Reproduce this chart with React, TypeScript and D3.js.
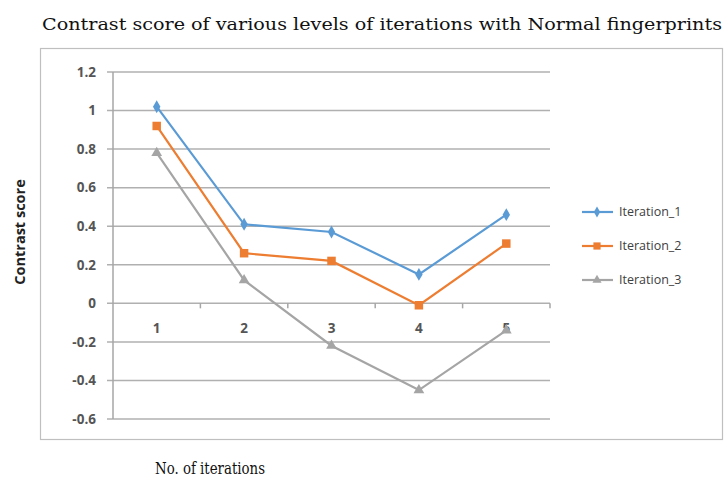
import React from "react";
import * as d3 from "d3";

const categories = ["1", "2", "3", "4", "5"];
const seriesNames = ["Iteration_1", "Iteration_2", "Iteration_3"];
const iteration1 = [1.02, 0.41, 0.37, 0.15, 0.46];
const iteration2 = [0.92, 0.26, 0.22, -0.01, 0.31];
const iteration3 = [0.78, 0.12, -0.22, -0.45, -0.14];
const yTicks = [1.2, 1, 0.8, 0.6, 0.4, 0.2, 0, -0.2, -0.4, -0.6];
const colors = ["#5B9BD5", "#ED7D31", "#A5A5A5"];
const markers = ["diamond", "square", "triangle"];

const W = 727;
const H = 481;
const plotLeft = 113;
const plotRight = 550;
const plotTop = 72;
const plotBottom = 419;

export default function App() {
  const series = [iteration1, iteration2, iteration3];
  const x = d3.scaleBand<string>().domain(categories).range([plotLeft, plotRight]);
  const y = d3.scaleLinear().domain([-0.6, 1.2]).range([plotBottom, plotTop]);
  const cx = (c: string) => (x(c) as number) + x.bandwidth() / 2;
  const line = d3
    .line<number>()
    .x((_, i) => cx(categories[i]))
    .y((d) => y(d));

  const symbolFor = (m: string) =>
    m === "diamond"
      ? d3.symbol().type(d3.symbolDiamond).size(48)()
      : m === "square"
      ? d3.symbol().type(d3.symbolSquare).size(72)()
      : d3.symbol().type(d3.symbolTriangle).size(50)();

  const tickFont = { fontFamily: "'Open Sans', sans-serif", fontSize: 13.5, fontWeight: 700, fill: "#555" };
  const serifFont = {
    fontFamily: "'DejaVu Serif', serif",
    fontStretch: "condensed",
    fontWeight: 400,
    fill: "#111",
  } as React.CSSProperties;
  const boundaries = d3.range(categories.length + 1).map((i) => plotLeft + i * x.step());

  return (
    <svg width={W} height={H} style={{ position: "absolute", left: 0, top: 0, background: "#fff" }}>
      <rect x={0} y={0} width={W} height={H} fill="#fff" />
      <text
        x={42}
        y={30}
        textLength={680}
        lengthAdjust="spacingAndGlyphs"
        style={{ ...serifFont, fontSize: 17.5 }}
      >
        Contrast score of various levels of iterations with Normal fingerprints
      </text>
      <rect x={40.5} y={48.5} width={682} height={391} fill="#fff" stroke="#bfbfbf" strokeWidth={1.2} />
      {yTicks.map((t) => (
        <g key={t}>
          <line x1={plotLeft - 6} x2={plotRight} y1={y(t)} y2={y(t)} stroke="#b0b0b0" strokeWidth={1.5} />
          <text x={96} y={y(t)} dy="0.35em" textAnchor="end" style={tickFont}>
            {t}
          </text>
        </g>
      ))}
      <line x1={plotLeft} x2={plotLeft} y1={plotTop} y2={plotBottom} stroke="#a6a6a6" strokeWidth={1.5} />
      {boundaries.slice(1).map((bx, i) => (
        <line key={i} x1={bx} x2={bx} y1={y(0)} y2={y(0) + 5} stroke="#a6a6a6" strokeWidth={1.5} />
      ))}
      {categories.map((c) => (
        <text key={c} x={cx(c)} y={y(0) + 25} textAnchor="middle" dy="0.35em" style={tickFont}>
          {c}
        </text>
      ))}
      {series.map((s, si) => (
        <g key={si}>
          <path d={line(s) || ""} fill="none" stroke={colors[si]} strokeWidth={2.2} />
          {s.map((v, i) => (
            <path
              key={i}
              d={symbolFor(markers[si]) || ""}
              transform={`translate(${cx(categories[i])},${y(v)})`}
              fill={colors[si]}
            />
          ))}
        </g>
      ))}
      {seriesNames.map((n, i) => {
        const ly = 212 + i * 34;
        return (
          <g key={n}>
            <line x1={582} x2={613} y1={ly} y2={ly} stroke={colors[i]} strokeWidth={2.2} />
            <path d={symbolFor(markers[i]) || ""} transform={`translate(597,${ly}) scale(0.85)`} fill={colors[i]} />
            <text
              x={619}
              y={ly}
              dy="0.35em"
              style={{ fontFamily: "'Open Sans', sans-serif", fontSize: 12.5, fill: "#404040" }}
            >
              {n}
            </text>
          </g>
        );
      })}
      <text
        transform="translate(25,232) rotate(-90)"
        textAnchor="middle"
        style={{ fontFamily: "'Open Sans', sans-serif", fontSize: 14.5, fontWeight: 700, fill: "#222" }}
      >
        Contrast score
      </text>
      <text
        x={155}
        y={474}
        textLength={110}
        lengthAdjust="spacingAndGlyphs"
        style={{ ...serifFont, fontSize: 17 }}
      >
        No. of iterations
      </text>
    </svg>
  );
}
